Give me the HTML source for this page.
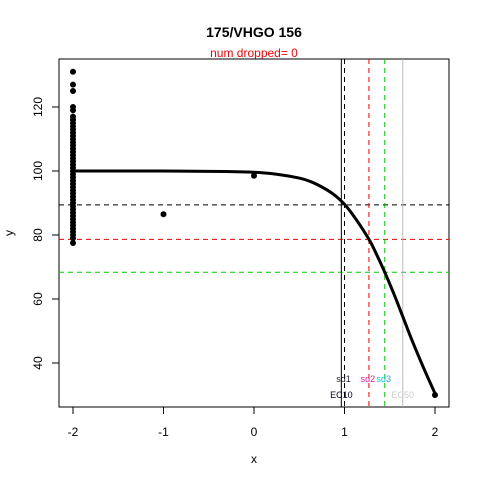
<!DOCTYPE html>
<html><head><meta charset="utf-8"><style>
body{margin:0;background:#fff;}
svg{display:block;font-family:"Liberation Sans",Arial,sans-serif;}
</style></head><body>
<svg id="chart" width="480" height="480" viewBox="0 0 480 480" xmlns="http://www.w3.org/2000/svg">
<text x="254" y="37" text-anchor="middle" font-size="14" font-weight="bold">175/VHGO 156</text>
<text x="254" y="57" text-anchor="middle" font-size="12" fill="#f00">num dropped= 0</text>
<text x="254" y="463" text-anchor="middle" font-size="12">x</text>
<text x="13" y="233" text-anchor="middle" font-size="12" transform="rotate(-90 13 233)">y</text>
<rect x="59" y="59" width="390" height="348" fill="none" stroke="#000"/>
<g id="axes"></g>
<g id="refs"></g>
<g id="marks"></g>
</svg>
<script>
const xTicks=[-2,-1,0,1,2];
const yTicks=[40,60,80,100,120];
const curveX=[-2,-1.5,-1,-0.5,-0.25,0,0.25,0.5,0.625,0.75,0.875,1,1.125,1.27,1.35,1.445,1.55,1.644,1.75,1.875,2];
const curveY=[100,100,100,99.9,99.8,99.6,99,97.8,96.7,95,92.8,89.6,85,78.65,74.2,68.35,61.3,54.5,46.8,38.4,30.5];
const ptsAtMinus2=[131,127,125,120,119,117,116,115,114,113,112,111,110,109,108,107,106,105,104,103,102,101,100,99,98,97,96,95,94,93,92,91,90,89,88,87,86,85,84,83,82,81,80,79,77.5];
const otherX=[-1,0,2];
const otherY=[86.5,98.5,30];
const vLines=[0.965,1.0,1.27,1.445,1.644];
const vColors=["#000","#000","#e00","#0b0","#bbb"];
const vDash=["","5,4","5,4","5,4",""];
const hLines=[89.4,78.65,68.35];
const hColors=["#000","#e00","#0c0"];
const NS="http://www.w3.org/2000/svg";
const X=v=>254+90.5*v;
const Y=v=>171-3.2*(v-100);
function mk(tag,attrs,parent,text){const e=document.createElementNS(NS,tag);for(const k in attrs)e.setAttribute(k,attrs[k]);if(text!=null)e.textContent=text;document.getElementById(parent).appendChild(e);return e;}
xTicks.forEach(t=>{
 let l=mk('line',{x1:X(t),x2:X(t),y1:407,y2:414,stroke:'#000'},'axes');
 
 
 let tx=mk('text',{x:X(t),y:436,'text-anchor':'middle','font-size':12},'axes',t);
 
 
});
yTicks.forEach(t=>{
 let l=mk('line',{x1:52,x2:59,y1:Y(t),y2:Y(t),stroke:'#000'},'axes');
 
 
 let tx=mk('text',{x:42,y:Y(t),'text-anchor':'middle','font-size':12,transform:`rotate(-90 42 ${Y(t)})`},'axes',t);
 
 
});
hLines.forEach((h,i)=>{
 let l=mk('line',{x1:59,x2:449,y1:Y(h),y2:Y(h),stroke:hColors[i],'stroke-dasharray':'5,4'},'refs');
 
 
});
vLines.forEach((v,i)=>{
 let a={x1:X(v),x2:X(v),y1:59,y2:407,stroke:vColors[i]};
 if(vDash[i])a['stroke-dasharray']=vDash[i];
 let l=mk('line',a,'refs');
 
 
});
const labs=[["sd1",X(vLines[1])-1,382,"#223"],["sd2",X(vLines[2])-1,382,"#e0209a"],["sd3",X(vLines[3])-1,382,"#1bc"],["EC10",X(vLines[0]),398,"#002"],["EC50",X(vLines[4]),398,"#ccc"]];
labs.forEach(s=>{
 let t=mk('text',{x:s[1],y:s[2],'text-anchor':'middle','font-size':9,fill:s[3]},'refs',s[0]);
 
 
});
const P=curveX.map((x,i)=>[X(x),Y(curveY[i])]);
let d='M'+P[0][0]+','+P[0][1];
for(let i=0;i<P.length-1;i++){
 const p0=P[Math.max(0,i-1)],p1=P[i],p2=P[i+1],p3=P[Math.min(P.length-1,i+2)];
 const c1=[p1[0]+(p2[0]-p0[0])/6,p1[1]+(p2[1]-p0[1])/6];
 const c2=[p2[0]-(p3[0]-p1[0])/6,p2[1]-(p3[1]-p1[1])/6];
 d+=` C${c1[0]},${c1[1]} ${c2[0]},${c2[1]} ${p2[0]},${p2[1]}`;
}
let c=mk('path',{d:d,fill:'none',stroke:'#000','stroke-width':3},'marks');


ptsAtMinus2.forEach(v=>{
 let p=mk('circle',{cx:X(-2),cy:Y(v),r:3,fill:'#000'},'marks');
 
 
});
otherX.forEach((x,i)=>{
 let p=mk('circle',{cx:X(x),cy:Y(otherY[i]),r:3,fill:'#000'},'marks');
 
 
});
</script>
</body></html>
